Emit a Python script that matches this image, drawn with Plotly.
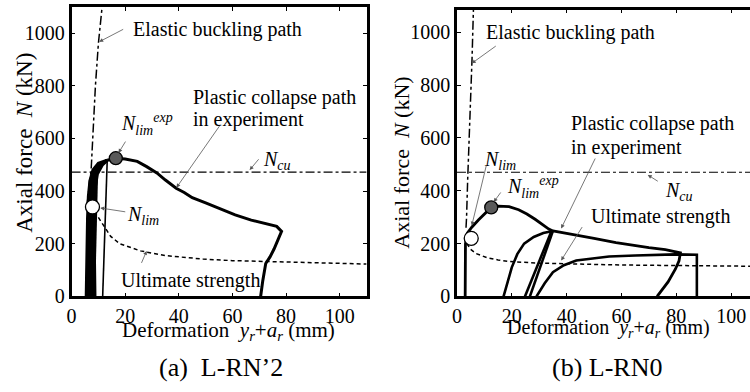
import plotly.graph_objects as go

W, H = 750, 392
FONT = "Liberation Serif"
NB = "\u00a0"

# ---------------- data: panel (a) L-RN'2 ----------------
elastic_a_x = [5.8, 6.3, 7.3, 7.9, 8.9, 10.0, 11.4]
elastic_a_n = [350, 400, 480, 600, 800, 960, 1100]
ncu_a = 472
ultimate_a_x = [10, 11, 12.5, 14.6, 18, 25.7, 35, 49, 60, 80, 100, 110]
ultimate_a_n = [300, 285, 260, 228, 200, 173, 155, 142, 136, 130, 126, 123]
# cyclic loops near the origin (thick)
cyc_a_x = [5.5, 5.6, 5.8, 6.0, 6.3, 6.9, 8.0, 10.0, 13.3, None,
           6.5, 6.4, 6.5, 7.0, 8.0, 10.0, 13.2, None,
           7.5, 7.3, 7.3, 7.8, 9.0, 11.0, 13.2, None,
           8.7, 8.4, 8.3, 8.6, 9.6, 11.5, 13.3, None,
           7.0, 6.2, 5.8, None,
           8.2, 7.6, 7.0, None,
           9.3, 8.8, 8.2]
cyc_a_n = [0, 100, 200, 300, 380, 440, 480, 505, 517, None,
           0, 150, 300, 400, 460, 495, 517, None,
           0, 150, 300, 400, 470, 500, 517, None,
           0, 150, 300, 400, 465, 500, 517, None,
           440, 250, 0, None,
           460, 250, 0, None,
           470, 250, 0]
reload_a_x = [11.6, 12.3, 13.3]
reload_a_n = [0, 250, 517]
exp_a_x = [13.3, 16.5, 20, 24.5, 28, 31.8, 35, 39, 42, 45, 50, 55, 61, 67, 74, 76.5,
           78.3, 77, 75.5, 74, 72.4, 71.3, 70.5]
exp_a_n = [517, 525, 522, 513, 493, 469, 442, 411, 395, 375, 355, 335, 310, 290, 272, 266,
           247, 215, 180, 150, 125, 60, 0]
nlim_a = (7.8, 340)
nlimexp_a = (16.5, 525)

# ---------------- data: panel (b) L-RN0 ----------------
elastic_b_x = [3.3, 3.5, 3.9, 4.5, 5.5, 6.0]
elastic_b_n = [260, 300, 440, 600, 900, 1085]
ncu_b = 470
ultimate_b_x = [3.6, 5, 7, 10.9, 15, 19.3, 30, 43.5, 60, 80, 110]
ultimate_b_n = [200, 178, 162, 147, 138, 132, 126, 122, 119, 117, 114]
exp_b_x = [3.0, 3.0, 3.1, 3.8, 5.4, 7.9, 10.9, 12.5, 15, 19, 22.5, 25.5, 28.5, 31.4, 33.5, 35,
           43.5, 50, 58, 65, 70, 76, 80, 81.5, 81, 79.7, 77, 73]
exp_b_n = [0, 100, 200, 240, 262, 290, 320, 337, 342, 340, 328, 312, 292, 270, 255, 248,
           233, 220, 204, 192, 185, 177, 170, 165, 135, 104, 55, 0]
loops_b_x = [17, 18.5, 20, 22, 24.5, 28, 31.5, 35, None,
             24.8, 34.5, None,
             26.6, 35, None,
             29, 32, 35, 39, 43.5, 50, 55.5, 65, 79.7, 87.5, 87.5]
loops_b_n = [0, 60, 110, 160, 200, 225, 240, 248, None,
             0, 248, None,
             0, 248, None,
             0, 50, 92, 118, 136, 145, 151, 155, 159, 158, 0]
nlim_b = (5.2, 220)
nlimexp_b = (12.5, 337)

xticks = [0, 20, 40, 60, 80, 100]
yticks = [0, 200, 400, 600, 800, 1000]

fig = go.Figure()

def add_panel(xa, ya, el_x, el_n, ncu, ult_x, ult_n, xmax):
    fig.add_trace(go.Scatter(x=el_x, y=el_n, mode="lines", xaxis=xa, yaxis=ya,
                             line=dict(color="black", width=1.5, dash="dashdot")))
    fig.add_trace(go.Scatter(x=[0, xmax], y=[ncu, ncu], mode="lines", xaxis=xa, yaxis=ya,
                             line=dict(color="black", width=1.2, dash="dashdot")))
    fig.add_trace(go.Scatter(x=ult_x, y=ult_n, mode="lines", xaxis=xa, yaxis=ya,
                             line=dict(color="black", width=1.5, dash="4px,3px")))

# panel a
add_panel("x", "y", elastic_a_x, elastic_a_n, ncu_a, ultimate_a_x, ultimate_a_n, 110)
fig.add_trace(go.Scatter(x=cyc_a_x, y=cyc_a_n, mode="lines", xaxis="x", yaxis="y",
                         line=dict(color="black", width=3.2), connectgaps=False))
fig.add_trace(go.Scatter(x=reload_a_x, y=reload_a_n, mode="lines", xaxis="x", yaxis="y",
                         line=dict(color="black", width=1.6)))
fig.add_trace(go.Scatter(x=exp_a_x, y=exp_a_n, mode="lines", xaxis="x", yaxis="y",
                         line=dict(color="black", width=3)))
fig.add_trace(go.Scatter(x=[nlim_a[0]], y=[nlim_a[1]], mode="markers", xaxis="x", yaxis="y",
                         marker=dict(size=14, color="white", line=dict(color="black", width=1.3))))
fig.add_trace(go.Scatter(x=[nlimexp_a[0]], y=[nlimexp_a[1]], mode="markers", xaxis="x", yaxis="y",
                         marker=dict(size=13, color="#5a5a5a", line=dict(color="black", width=1.3))))

# panel b
add_panel("x2", "y2", elastic_b_x, elastic_b_n, ncu_b, ultimate_b_x, ultimate_b_n, 110)
fig.add_trace(go.Scatter(x=loops_b_x, y=loops_b_n, mode="lines", xaxis="x2", yaxis="y2",
                         line=dict(color="black", width=2.6), connectgaps=False))
fig.add_trace(go.Scatter(x=exp_b_x, y=exp_b_n, mode="lines", xaxis="x2", yaxis="y2",
                         line=dict(color="black", width=2.8)))
fig.add_trace(go.Scatter(x=[nlim_b[0]], y=[nlim_b[1]], mode="markers", xaxis="x2", yaxis="y2",
                         marker=dict(size=14, color="white", line=dict(color="black", width=1.3))))
fig.add_trace(go.Scatter(x=[nlimexp_b[0]], y=[nlimexp_b[1]], mode="markers", xaxis="x2", yaxis="y2",
                         marker=dict(size=13, color="#5a5a5a", line=dict(color="black", width=1.3))))

axis_common = dict(showgrid=False, zeroline=False, showline=True, linecolor="black",
                   linewidth=2.5, ticks="inside", ticklen=4, tickwidth=1, tickcolor="black",
                   tickfont=dict(family=FONT, size=20, color="black"))

fig.update_layout(
    width=W, height=H, margin=dict(l=0, r=0, t=0, b=0),
    paper_bgcolor="white", plot_bgcolor="white", showlegend=False,
    xaxis=dict(domain=[67 / W, 364 / W], range=[0, 110], tickvals=xticks, mirror="allticks",
               anchor="y", **axis_common),
    yaxis=dict(domain=[1 - 305 / H, 1 - 7 / H], range=[0, 1100], tickvals=yticks, mirror="allticks",
               anchor="x", **axis_common),
    xaxis2=dict(domain=[455 / W, 1.0], range=[0, (750 - 455) / 2.76], tickvals=xticks,
                mirror="allticks", anchor="y2", **axis_common),
    yaxis2=dict(domain=[1 - 305 / H, 1 - 10 / H], range=[0, 1085], tickvals=yticks, mirror=False,
                anchor="x2", **axis_common),
)

ann = []

def txt(px, py, text, size=20, xanchor="left", angle=0):
    ann.append(dict(x=px / W, y=1 - py / H, xref="paper", yref="paper", text=text,
                    showarrow=False, xanchor=xanchor, yanchor="middle", textangle=angle,
                    font=dict(family=FONT, size=size, color="black")))

def arrow(xr, yr, x, y, ax, ay):
    ann.append(dict(x=x, y=y, xref=xr, yref=yr, ax=ax, ay=ay, text=NB, showarrow=True,
                    font=dict(size=2), borderpad=0,
                    arrowhead=2, arrowsize=1, arrowwidth=0.8, arrowcolor="#555555"))

NLIM = "<i>N</i><sub><i>lim</i></sub>"
NLIMEXP = "<i>N</i><sub><i>lim</i></sub><sup><i>exp</i></sup>"
NCU = "<i>N</i><sub><i>cu</i></sub>"

# panel a annotations
txt(127, 30, "Elastic buckling path")
arrow("x", "y", 10.3, 967, 25, -13)
txt(115, 128, NLIMEXP)
arrow("x", "y", 17.5, 545, 8, -13)
txt(187, 100, "Plastic collapse path")
txt(187, 123, "in experiment")
arrow("x", "y", 39.1, 413, 44, -63)
txt(258, 165, NCU)
arrow("x", "y", 66.4, 480, 10, -12)
txt(121, 222, NLIM)
arrow("x", "y", 10.7, 336, 26, 4)
txt(115, 289, "Ultimate strength")
arrow("x", "y", 28, 173, -6, 14)

# panel b annotations
txt(482, 33, "Elastic buckling path")
arrow("x2", "y2", 5.4, 882, 25, -18)
txt(568, 127, "Plastic collapse path")
txt(568, 152, "in experiment")
arrow("x2", "y2", 38, 257, 35, -72)
txt(480, 165, NLIM)
arrow("x2", "y2", 5.4, 268, 15, -62)
txt(503, 192, NLIMEXP)
arrow("x2", "y2", 13.4, 357, 8, -11)
txt(662, 197, NCU)
arrow("x2", "y2", 69.6, 460, 11, 7)
txt(588, 223, "Ultimate strength")
arrow("x2", "y2", 38, 136, 22, -35)

# axis titles & captions
XT = "Deformation" + NB * 2 + "<i>y</i><sub><i>r</i></sub>+<i>a</i><sub><i>r</i></sub>" + NB + "(mm)"
YT = "Axial force" + NB * 2 + "<i>N</i>" + NB + "(kN)"
txt(225, 341, XT, size=21, xanchor="center")
txt(608, 338, XT, size=20, xanchor="center")
txt(20, 147, YT, size=23, xanchor="center", angle=-90)
txt(399, 167, YT, size=22, xanchor="center", angle=-90)
txt(217, 378, "(a)" + NB * 2 + "L-RN’2", size=26, xanchor="center")
txt(606, 378, "(b) L-RN0", size=26, xanchor="center")

fig.update_layout(annotations=ann)
fig.write_html("out.html", config={"displayModeBar": False},
               post_script="document.body.style.margin='0';document.body.style.overflow='hidden';")
